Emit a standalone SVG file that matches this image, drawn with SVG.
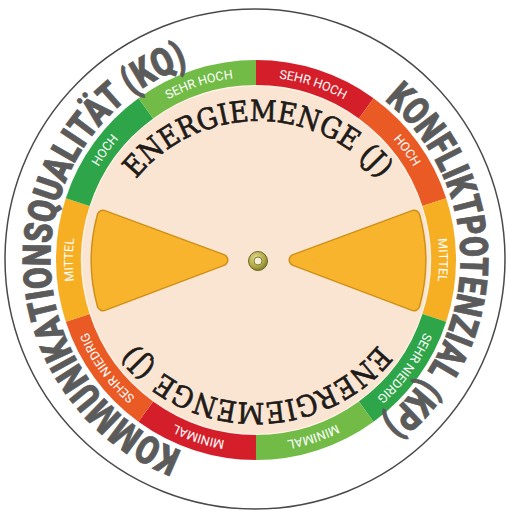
<svg xmlns="http://www.w3.org/2000/svg" xmlns:xlink="http://www.w3.org/1999/xlink" width="506" height="514" viewBox="0 0 506 514">
<style>
.seg{fill:none;stroke-width:25}
.lbl{font-family:Roboto,"Open Sans","Liberation Sans",sans-serif;font-size:12.5px;fill:#ffffff;text-anchor:middle}
.outer{font-family:Roboto,"Liberation Sans",sans-serif;font-weight:900;font-size:39px;fill:#5b5b5b;stroke:#5b5b5b;stroke-width:0.8}
.energy{font-family:"DejaVu Serif","Liberation Serif",serif;font-size:29px;fill:#1e1a18;stroke:#1e1a18;stroke-width:0.7}
.rim{fill:none;stroke:#d09018;stroke-width:13;stroke-linejoin:round}
.tri{fill:#f7b42c;stroke:#f7b42c;stroke-width:10;stroke-linejoin:round}
</style>
<defs>
<path id="ringPath" d="M 256 77 A 183 183 0 1 1 256 443 A 183 183 0 1 1 256 77"/>
<path id="kpPath" d="M 384.5 100.2 A 205 205 0 0 1 381.7 421.0"/>
<path id="kqPath" d="M 182.0 450.9 A 205 205 0 0 1 188.8 65.7"/>
<path id="topPath" d="M 136.0 179.2 A 157 157 0 0 1 380.0 179.2"/>
<path id="botPath" d="M 378.0 344.8 A 157 157 0 0 1 134.0 344.8"/>
<radialGradient id="grom" cx="0.4" cy="0.35" r="0.7">
<stop offset="0" stop-color="#e3dc96"/>
<stop offset="0.6" stop-color="#b3aa4a"/>
<stop offset="1" stop-color="#7d7728"/>
</radialGradient>
</defs>

<g id="disk">
<circle cx="255" cy="259" r="250" fill="#ffffff" stroke="#4a4a4a" stroke-width="1.5"/>
</g>

<g id="face">
<circle cx="256" cy="260" r="176" fill="#f9e5d2"/>
<circle cx="256" cy="260" r="174.5" fill="none" stroke="#fdf2e6" stroke-width="1.5"/>
</g>

<g id="ring">
<path class="seg" stroke="#d41f2b" d="M 256 72.5 A 187.5 187.5 0 0 1 366.21 108.31"/>
<path class="seg" stroke="#e95a25" d="M 366.21 108.31 A 187.5 187.5 0 0 1 434.33 202.06"/>
<path class="seg" stroke="#f6ae22" d="M 434.33 202.06 A 187.5 187.5 0 0 1 434.33 317.94"/>
<path class="seg" stroke="#2ea548" d="M 434.33 317.94 A 187.5 187.5 0 0 1 366.21 411.69"/>
<path class="seg" stroke="#71bb46" d="M 366.21 411.69 A 187.5 187.5 0 0 1 256 447.5"/>
<path class="seg" stroke="#d41f2b" d="M 256 447.5 A 187.5 187.5 0 0 1 145.79 411.69"/>
<path class="seg" stroke="#e95a25" d="M 145.79 411.69 A 187.5 187.5 0 0 1 77.67 317.94"/>
<path class="seg" stroke="#f6ae22" d="M 77.67 317.94 A 187.5 187.5 0 0 1 77.67 202.06"/>
<path class="seg" stroke="#2ea548" d="M 77.67 202.06 A 187.5 187.5 0 0 1 145.79 108.31"/>
<path class="seg" stroke="#71bb46" d="M 145.79 108.31 A 187.5 187.5 0 0 1 256 72.5"/>
</g>

<g id="ring-labels">
<text class="lbl"><textPath xlink:href="#ringPath" href="#ringPath" startOffset="57.5">SEHR HOCH</textPath></text>
<text class="lbl"><textPath xlink:href="#ringPath" href="#ringPath" startOffset="172.5">HOCH</textPath></text>
<text class="lbl"><textPath xlink:href="#ringPath" href="#ringPath" startOffset="287.5">MITTEL</textPath></text>
<text class="lbl"><textPath xlink:href="#ringPath" href="#ringPath" startOffset="402.4">SEHR NIEDRIG</textPath></text>
<text class="lbl"><textPath xlink:href="#ringPath" href="#ringPath" startOffset="517.4">MINIMAL</textPath></text>
<text class="lbl"><textPath xlink:href="#ringPath" href="#ringPath" startOffset="632.4">MINIMAL</textPath></text>
<text class="lbl"><textPath xlink:href="#ringPath" href="#ringPath" startOffset="747.4">SEHR NIEDRIG</textPath></text>
<text class="lbl"><textPath xlink:href="#ringPath" href="#ringPath" startOffset="862.4">MITTEL</textPath></text>
<text class="lbl"><textPath xlink:href="#ringPath" href="#ringPath" startOffset="977.3">HOCH</textPath></text>
<text class="lbl"><textPath xlink:href="#ringPath" href="#ringPath" startOffset="1092.3">SEHR HOCH</textPath></text>
</g>

<g id="kp-title">
<text class="outer"><textPath xlink:href="#kpPath" href="#kpPath" textLength="368" lengthAdjust="spacingAndGlyphs">KONFLIKTPOTENZIAL (KP)</textPath></text>
</g>
<g id="kq-title">
<text class="outer"><textPath xlink:href="#kqPath" href="#kqPath" textLength="500" lengthAdjust="spacingAndGlyphs">KOMMUNIKATIONSQUALITÄT (KQ)</textPath></text>
</g>

<g id="energy-top">
<text class="energy"><textPath xlink:href="#topPath" href="#topPath" textLength="279" lengthAdjust="spacingAndGlyphs">ENERGIEMENGE (J)</textPath></text>
</g>
<g id="energy-bottom">
<text class="energy"><textPath xlink:href="#botPath" href="#botPath" textLength="279" lengthAdjust="spacingAndGlyphs">ENERGIEMENGE (J)</textPath></text>
</g>

<g id="pointer-left">
<path class="rim" d="M 103 216 L 222 260 L 103 305 A 168 168 0 0 1 103 216 Z"/>
<path class="tri" d="M 103 216 L 222 260 L 103 305 A 168 168 0 0 1 103 216 Z"/>
</g>
<g id="pointer-right">
<path class="rim" d="M 414 216 L 295 260 L 414 305 A 168 168 0 0 0 414 216 Z"/>
<path class="tri" d="M 414 216 L 295 260 L 414 305 A 168 168 0 0 0 414 216 Z"/>
</g>

<g id="grommet">
<circle cx="258" cy="261" r="9.5" fill="url(#grom)" stroke="#6e6a26" stroke-width="1"/>
<circle cx="258" cy="261" r="4" fill="#f4eedb" stroke="#86812e" stroke-width="1"/>
</g>
</svg>
